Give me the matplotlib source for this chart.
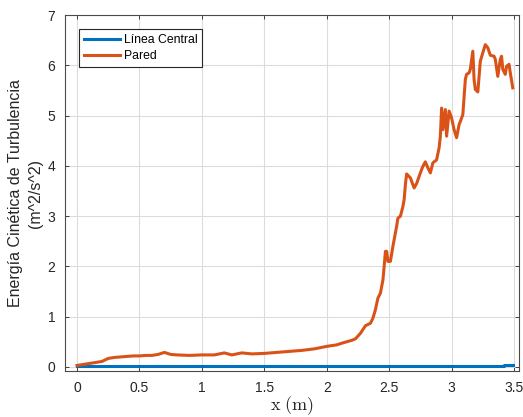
import matplotlib
matplotlib.use("Agg")
import matplotlib.pyplot as plt

# ---- data ----
x_pared = [0.00, 0.05, 0.10, 0.15, 0.20, 0.25, 0.30, 0.35, 0.40, 0.45, 0.50, 0.55, 0.60, 0.65,
           0.70, 0.75, 0.80, 0.90, 1.00, 1.10, 1.18, 1.24, 1.32, 1.40, 1.50, 1.60, 1.70, 1.80,
           1.90, 2.00, 2.08, 2.13, 2.20, 2.23, 2.27, 2.31, 2.35, 2.37, 2.39, 2.41, 2.43, 2.45,
           2.46, 2.47, 2.48, 2.49, 2.51, 2.53, 2.56, 2.57, 2.59, 2.61, 2.62, 2.63, 2.64, 2.67,
           2.70, 2.72, 2.75, 2.77, 2.79, 2.81, 2.83, 2.85, 2.88, 2.90, 2.91, 2.92, 2.93, 2.95,
           2.96, 2.98, 3.00, 3.02, 3.04, 3.06, 3.08, 3.09, 3.11, 3.12, 3.14, 3.15, 3.17, 3.18,
           3.19, 3.21, 3.23, 3.25, 3.27, 3.29, 3.31, 3.34, 3.35, 3.37, 3.39, 3.40, 3.41, 3.43,
           3.44, 3.46, 3.47, 3.49]
y_pared = [0.03, 0.05, 0.07, 0.09, 0.11, 0.17, 0.19, 0.20, 0.21, 0.22, 0.22, 0.23, 0.23, 0.25,
           0.29, 0.25, 0.24, 0.23, 0.24, 0.24, 0.28, 0.24, 0.28, 0.26, 0.27, 0.29, 0.31, 0.33,
           0.36, 0.41, 0.44, 0.48, 0.53, 0.56, 0.67, 0.82, 0.87, 0.97, 1.14, 1.37, 1.47, 1.73,
           2.00, 2.30, 2.30, 2.10, 2.10, 2.40, 2.80, 2.96, 3.00, 3.19, 3.33, 3.63, 3.84, 3.76,
           3.56, 3.65, 3.86, 3.99, 4.08, 3.96, 3.86, 4.06, 4.12, 4.36, 4.59, 5.15, 4.72, 5.12,
           4.59, 5.09, 4.95, 4.72, 4.56, 4.82, 4.95, 5.02, 5.72, 5.82, 5.85, 5.92, 6.28, 5.72,
           5.52, 5.47, 6.08, 6.25, 6.41, 6.35, 6.20, 6.18, 6.12, 5.78, 6.12, 6.18, 5.92, 5.82,
           5.98, 6.02, 5.85, 5.55]
x_central = [0.00, 3.42, 3.42, 3.49]
y_central = [0.02, 0.02, 0.045, 0.045]

x_ticks = [0, 0.5, 1, 1.5, 2, 2.5, 3, 3.5]
x_tick_labels = ["0", "0.5", "1", "1.5", "2", "2.5", "3", "3.5"]
y_ticks = [0, 1, 2, 3, 4, 5, 6, 7]
series_labels = ["Línea Central", "Pared"]

plt.rcParams['font.family'] = ['Liberation Sans', 'DejaVu Sans']
plt.rcParams['mathtext.fontset'] = 'cm'

fig = plt.figure(figsize=(5.23, 4.17), dpi=100)
ax = fig.add_axes([0.1243, 0.1103, 0.9924 - 0.1243, 0.964 - 0.1103])

ax.plot(x_central, y_central, color='#0072BD', lw=2.2, label=series_labels[0], zorder=3)
ax.plot(x_pared, y_pared, color='#D95319', lw=2.2, label=series_labels[1], zorder=3)

ax.set_xlim(-0.096, 3.54)
ax.set_ylim(-0.08, 7)
ax.set_xticks(x_ticks)
ax.set_xticklabels(x_tick_labels)
ax.set_yticks(y_ticks)

ax.grid(True, color='#DCDCDC', lw=0.8)
ax.set_axisbelow(True)
ax.tick_params(direction='in', length=3, width=0.6, colors='#262626', labelsize=10,
               top=True, right=True, pad=7)
for s in ax.spines.values():
    s.set_color('#4a4a4a')
    s.set_linewidth(0.8)

ax.set_ylabel("Energía Cinética de Turbulencia\n(m^2/s^2)", fontsize=11.5, color='#262626',
              linespacing=1.4, labelpad=3)
ax.set_xlabel(r"$\mathrm{x\ (m)}$", fontsize=13, color='#262626', labelpad=0)

leg = ax.legend(loc='upper left', bbox_to_anchor=(0.03, 0.96), fontsize=8.8,
                frameon=True, fancybox=False, edgecolor='#262626', framealpha=1,
                handlelength=3.0, handletextpad=0.3, borderpad=0.4, labelspacing=0.3,
                borderaxespad=0)
leg.get_frame().set_linewidth(0.8)

fig.savefig("out.png", dpi=100)
